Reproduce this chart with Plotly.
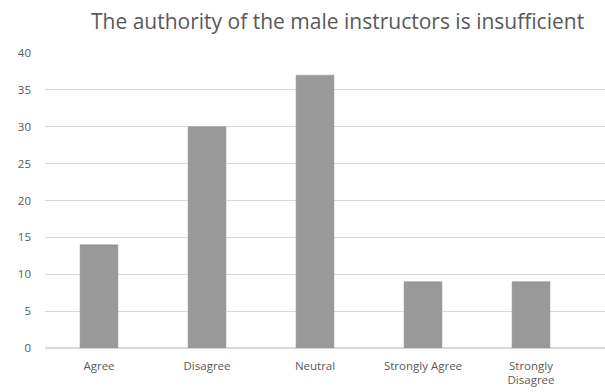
import plotly.graph_objects as go

categories = ["Agree", "Disagree", "Neutral", "Strongly Agree", "Strongly<br>Disagree"]
values = [14, 30, 37, 9, 9]
y_ticks = [0, 5, 10, 15, 20, 25, 30, 35, 40]
title_text = "The authority of the male instructors is insufficient"

fig = go.Figure(go.Bar(
    x=list(range(len(categories))), y=values,
    marker=dict(color="#999999", line=dict(color="#8f8f8f", width=0.5)),
    width=0.35,
))

fig.update_layout(
    width=605, height=392,
    margin=dict(l=45, r=0, t=53, b=44),
    paper_bgcolor="white", plot_bgcolor="white",
    showlegend=False,
    font=dict(family="Open Sans", color="#595959", size=11),
    title=dict(text=title_text, x=91/605, xanchor="left", y=1 - 22/392, yanchor="middle",
               font=dict(family="Open Sans", size=21, color="#595959")),
)
fig.update_xaxes(
    tickmode="array", tickvals=list(range(len(categories))), ticktext=categories,
    range=[-0.5, 4.5 + 20/108], showgrid=False, showline=False, ticks="",
    tickfont=dict(size=11.5, color="#595959"), zeroline=False, ticklabelstandoff=9,
)
fig.update_yaxes(
    range=[0, 40], tickmode="array", tickvals=y_ticks,
    showgrid=True, gridcolor="#d9d9d9", gridwidth=1, zeroline=True, zerolinecolor="#d9d9d9",
    ticks="", ticklabelstandoff=13, tickfont=dict(size=11.5, color="#595959"),
)
fig.write_html("out.html")
